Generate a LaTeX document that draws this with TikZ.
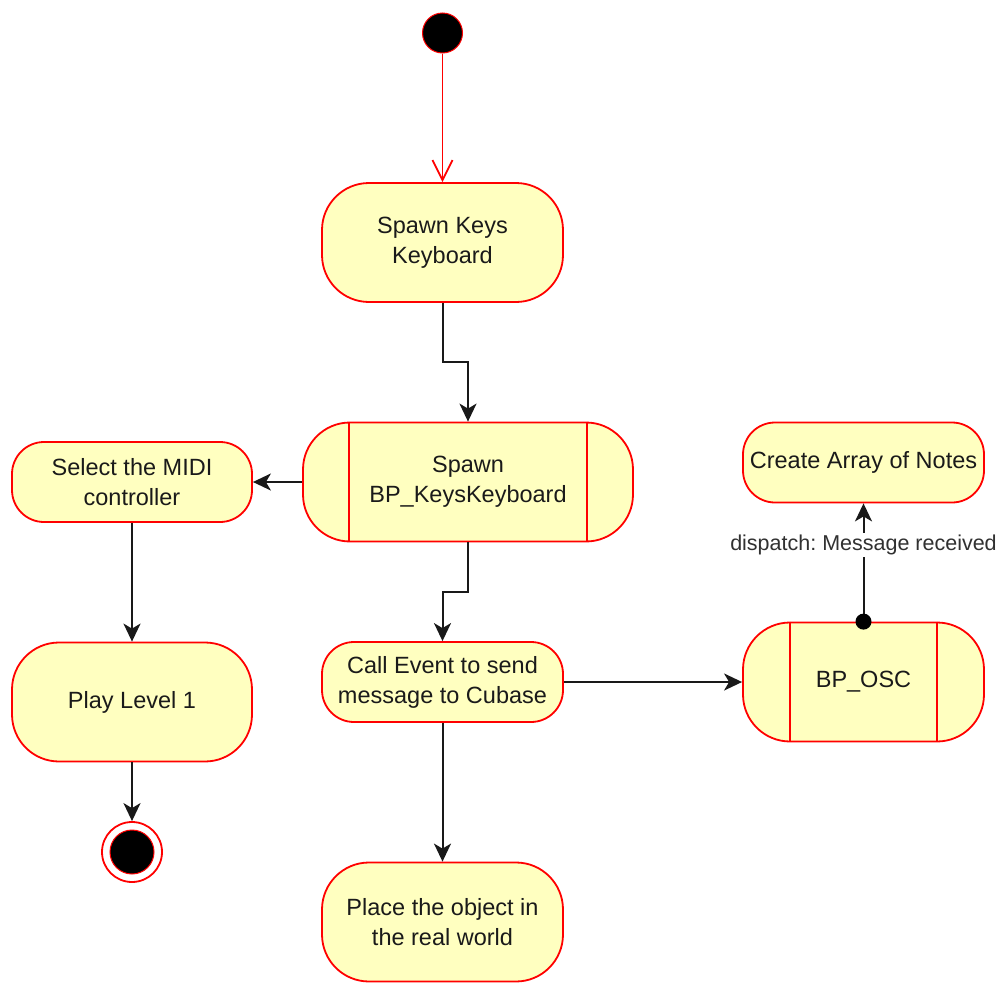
\documentclass[tikz,border=0pt]{standalone}
\usepackage{fontspec}
\setmainfont{Liberation Sans}
\usetikzlibrary{arrows.meta}
\definecolor{actfill}{HTML}{FFFFC0}
\definecolor{actline}{HTML}{FF0000}
\definecolor{txt}{HTML}{1A1A1A}
\frenchspacing
\begin{document}
\begin{tikzpicture}[x=1pt,y=-1pt,
  act/.style={draw=actline, fill=actfill, line width=1.8pt, align=center,
    font=\fontsize{23.5}{30}\selectfont, text=txt, inner sep=0pt},
  tall/.style={minimum height=119pt, rounded corners=47pt},
  short/.style={minimum height=80pt, rounded corners=32pt},
  flow/.style={draw=black!90, line width=2pt,
    -{Stealth[length=18pt,width=17pt,inset=5pt]}},
  lbl/.style={fill=white, text=txt!90, font=\fontsize{21.5}{25}\selectfont, inner sep=2pt}]
\useasboundingbox (0,0) rectangle (1005,983);

% initial and final states
\node[circle, fill=black, draw=actline, line width=1pt, minimum size=40pt, inner sep=0pt] (start) at (442.5,33) {};
\node[circle, draw=actline, fill=white, line width=1.8pt, minimum size=60pt, inner sep=0pt] (end) at (132,852) {};
\draw[actline, fill=black, line width=1pt] (end.center) circle (22pt);

% activities
\node[act, tall, minimum width=241pt] (keys) at (442.5,242.5) {Spawn Keys\\Keyboard};
\node[act, tall, minimum width=330pt] (bp) at (468,482) {Spawn\\BP\_KeysKeyboard};
\node[act, short, minimum width=240pt] (midi) at (132,482) {Select the MIDI\\controller};
\node[act, tall, minimum width=240pt] (play) at (132,702) {Play Level 1};
\node[act, short, minimum width=241pt] (call) at (442.5,682) {Call Event to send\\message to Cubase};
\node[act, tall, minimum width=241pt] (place) at (442.5,922) {Place the object in\\the real world};
\node[act, tall, minimum width=241pt] (osc) at (863.5,682) {BP\_OSC};
\node[act, short, minimum width=241pt] (notes) at (863.5,462.5) {Create Array of Notes};

% sub-activity side bars
\draw[actline, line width=1.8pt] ([xshift=47pt]bp.north west) -- ([xshift=47pt]bp.south west);
\draw[actline, line width=1.8pt] ([xshift=-47pt]bp.north east) -- ([xshift=-47pt]bp.south east);
\draw[actline, line width=1.8pt] ([xshift=48pt]osc.north west) -- ([xshift=48pt]osc.south west);
\draw[actline, line width=1.8pt] ([xshift=-48pt]osc.north east) -- ([xshift=-48pt]osc.south east);

% transitions
\draw[actline, line width=1.8pt, -{Straight Barb[length=20pt,width=20pt]}] (start) -- (keys.north);
\draw[flow] (keys.south) -- ++(0,59) -| (bp.north);
\draw[flow] (bp.west) -- (midi.east);
\draw[flow] (midi.south) -- (play.north);
\draw[flow] (play.south) -- (end.north);
\draw[flow] (bp.south) -- ++(0,50) -| (call.north);
\draw[flow] (call.south) -- (place.north);
\draw[flow] (call.east) -- (osc.west);
\draw[flow] (osc.north) -- (notes.south)
  node[lbl, pos=0.65] {dispatch: Message received};
\fill[black] (osc.north) circle (8pt);
\end{tikzpicture}
\end{document}
